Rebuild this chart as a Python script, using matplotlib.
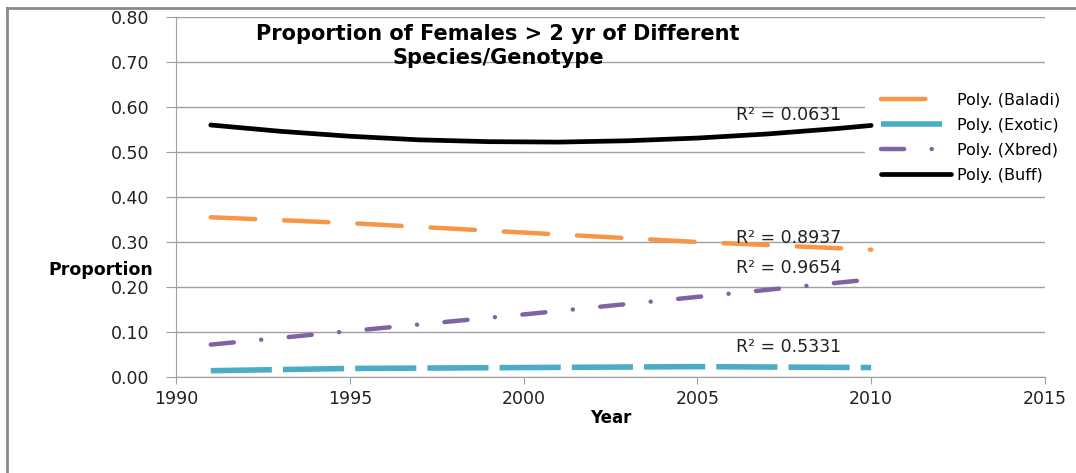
import matplotlib
matplotlib.use('Agg')
import matplotlib.pyplot as plt
from matplotlib.lines import Line2D
from matplotlib.patches import Rectangle

# trend line values
buff_years = [1991, 1993, 1995, 1997, 1999, 2001, 2003, 2005, 2007, 2009, 2010]
buff_vals = [0.560, 0.546, 0.535, 0.527, 0.523, 0.522, 0.525, 0.531, 0.540, 0.552, 0.559]

baladi_years = [1991, 1995, 2000, 2005, 2010]
baladi_vals = [0.355, 0.342, 0.321, 0.300, 0.283]

exotic_years = [1991, 1995, 2000, 2005, 2010]
exotic_vals = [0.014, 0.019, 0.021, 0.023, 0.021]

xbred_years = [1991, 1995, 2000, 2005, 2010]
xbred_vals = [0.072, 0.102, 0.139, 0.178, 0.217]

r2_labels = ['R² = 0.0631', 'R² = 0.8937', 'R² = 0.9654', 'R² = 0.5331']
r2_ypos = [0.582, 0.309, 0.242, 0.067]

yticks = [0.0, 0.1, 0.2, 0.3, 0.4, 0.5, 0.6, 0.7, 0.8]
xticks = [1990, 1995, 2000, 2005, 2010, 2015]

fig = plt.figure(figsize=(10.76, 4.73), dpi=100)
ax = fig.add_axes([176 / 1076, 1 - 377 / 473, (1045 - 176) / 1076, 360 / 473])

grey = '#a0a0a0'
txt = '#222222'
ax.set_xlim(1990, 2015)
ax.set_ylim(0, 0.8)
ax.set_yticks(yticks)
ax.set_yticklabels(['%.2f' % v for v in yticks])
ax.set_xticks(xticks)
ax.grid(axis='y', color=grey, lw=1)
ax.set_axisbelow(True)
for s in ['top', 'right']:
    ax.spines[s].set_visible(False)
for s in ['left', 'bottom']:
    ax.spines[s].set_color(grey)
ax.tick_params(axis='y', direction='out', length=7, color=grey, labelsize=12.5, pad=12, labelcolor=txt)
ax.tick_params(axis='x', direction='out', length=5, color=grey, labelsize=12.5, pad=4, labelcolor=txt)

# white area behind the legend hides the grid there
ax.add_patch(Rectangle((865 / 1076, 1 - 190 / 473), 180 / 1076, 102 / 473, transform=fig.transFigure,
                       facecolor='white', edgecolor='none', zorder=1.5))

ax.plot(baladi_years, baladi_vals, color='#f79646', lw=3.2, dashes=(10, 6.5), dash_capstyle='round',
        label='Poly. (Baladi)')
ax.plot(exotic_years, exotic_vals, color='#4bacc6', lw=4, dashes=(11, 2), label='Poly. (Exotic)')
ax.plot(xbred_years, xbred_vals, color='#8064a2', lw=3.2, dashes=(5.2, 6.2, 0.01, 6.2), dash_capstyle='round',
        label='Poly. (Xbred)')
ax.plot(buff_years, buff_vals, color='black', lw=3.4, solid_capstyle='round', label='Poly. (Buff)')

for lab, yv in zip(r2_labels, r2_ypos):
    ax.text(2006.1, yv, lab, fontsize=12.5, color=txt, va='center', ha='left')

fig.text(498 / 1076, 1 - 46 / 473, 'Proportion of Females > 2 yr of Different\nSpecies/Genotype',
         ha='center', va='center', fontsize=15, fontweight='bold', linespacing=1.25)

ax.set_xlabel('Year', fontsize=12, fontweight='bold', labelpad=1)
fig.text(101 / 1076, 1 - 270 / 473, 'Proportion', ha='center', va='center', fontsize=12.5, fontweight='bold')

leg = ax.legend(loc='upper left', bbox_to_anchor=(876 / 1076, 1 - 88 / 473), bbox_transform=fig.transFigure,
                frameon=True, fontsize=11.5, handlelength=4.4, handletextpad=0.35, labelspacing=0.62,
                borderpad=0.3, borderaxespad=0)
leg.get_frame().set_edgecolor('none')
leg.get_frame().set_facecolor('white')
leg.get_frame().set_alpha(1)

# outer chart border (top and left)
fig.add_artist(Line2D([7 / 1076, 1], [1 - 8 / 473, 1 - 8 / 473], transform=fig.transFigure, color='#8a8a8a', lw=2))
fig.add_artist(Line2D([7 / 1076, 7 / 1076], [0, 1 - 8 / 473], transform=fig.transFigure, color='#8a8a8a', lw=2))

fig.savefig('out.png', dpi=100)
